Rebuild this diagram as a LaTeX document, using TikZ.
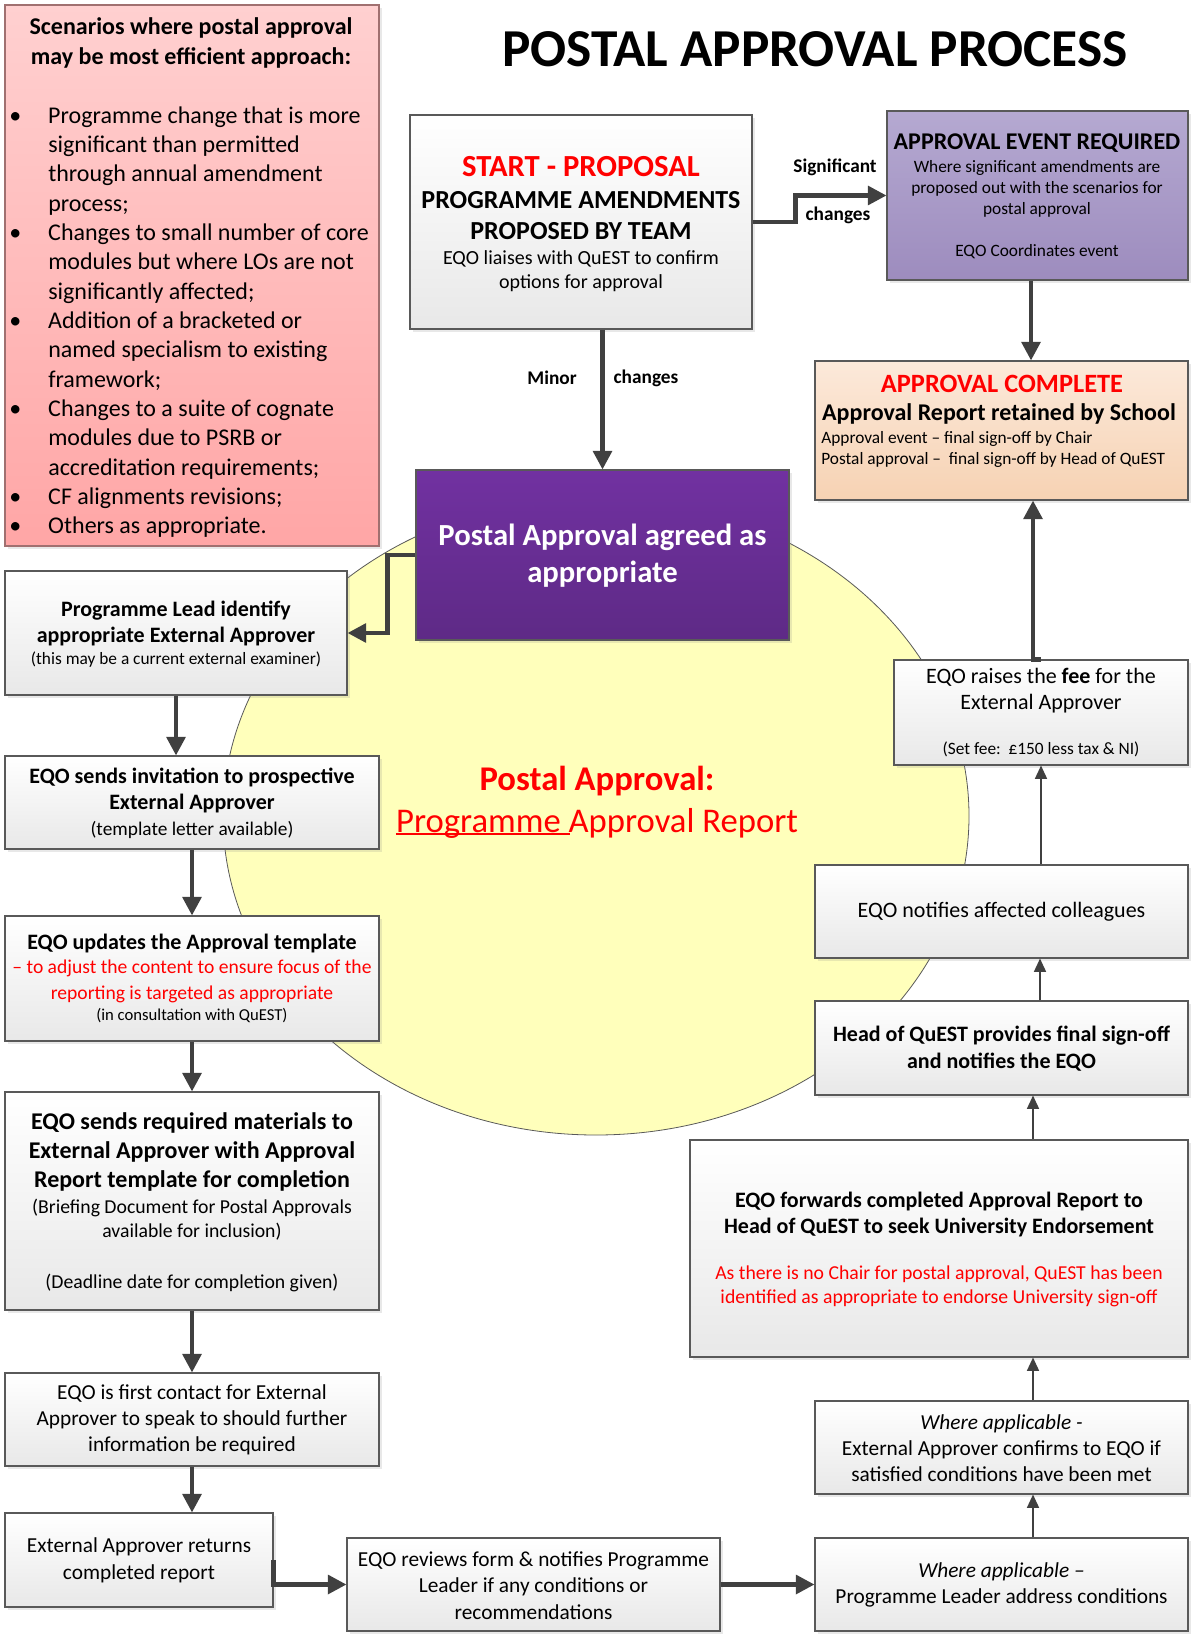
\documentclass[tikz,border=0pt]{standalone}
\usepackage{fontspec}
\setmainfont{Carlito}
\usetikzlibrary{arrows.meta,fit,shapes.geometric,shadows}
\definecolor{conn}{HTML}{404040}
\definecolor{boxline}{HTML}{595959}
\definecolor{pinktop}{HTML}{FFD0D0}
\definecolor{pinkbot}{HTML}{FFA6A6}
\definecolor{pinkline}{HTML}{A07070}
\definecolor{lavtop}{HTML}{B5A9D1}
\definecolor{lavbot}{HTML}{9D8CBE}
\definecolor{peachtop}{HTML}{FCE9DA}
\definecolor{peachbot}{HTML}{F6D2B3}
\definecolor{violtop}{HTML}{7131A1}
\definecolor{violbot}{HTML}{5E2A86}
\definecolor{lemon}{HTML}{FFFFBB}
\definecolor{alert}{HTML}{FF0000}
\newcommand\fsz[2]{\fontsize{#1}{#2}\selectfont}

\begin{document}
\begin{tikzpicture}[x=0.75pt,y=-0.75pt,
  panel/.style={draw=boxline, line width=0.8pt, inner sep=0pt,
    drop shadow={shadow xshift=2pt,shadow yshift=-2pt,opacity=0.18}},
  greybox/.style={panel, top color=white, bottom color=black!9},
  lbl/.style={inner sep=0pt, align=center},
  bigarrow/.style={draw=conn, line width=3.2pt, -{Triangle[length=14pt,width=14pt]}},
  thinarrow/.style={draw=conn, line width=1.2pt, -{Triangle[length=10pt,width=9pt]}},
]
\useasboundingbox (0,0) rectangle (1192,1640);
\fill[white] (0,0) rectangle (1192,1640);

% background oval
\node[ellipse, draw=boxline, line width=0.6pt, fill=lemon, inner sep=0pt,
      minimum width=559.5pt, minimum height=478.5pt] (oval) at (596,816) {};
\node[lbl, font=\fsz{26}{31.5}\bfseries, text=alert] (ovalA) at (597,781) {Postal Approval:};
\node[lbl, font=\fsz{26}{31.5}, text=alert] (ovalB) at (597,823) {Programme\ Approval Report};
\draw[alert, line width=1.5pt] ([yshift=-1.5pt]ovalB.base west) -- ([yshift=-1.5pt,xshift=130.5pt]ovalB.base west);

% title
\node[lbl, font=\fsz{40}{48}\bfseries] (title) at (815,49) {POSTAL APPROVAL PROCESS};

% scenarios panel
\node[panel, draw=pinkline, top color=pinktop, bottom color=pinkbot, fit={(5,5) (379,546)}] (scen) {};
\node[lbl, font=\fsz{18}{22}\bfseries] (scenhead) at (191,43) {Scenarios where postal approval\\may be most efficient approach:};
\node[anchor=north west, inner sep=0pt, font=\fsz{18}{22}] (scenlist) at (9,102.5) {%
\begin{tabular}{@{}p{29.25pt}@{}l@{}}
\textbullet & Programme change that is more\\
 & significant than permitted\\
 & through annual amendment\\
 & process;\\
\textbullet & Changes to small number of core\\
 & modules but where LOs are not\\
 & significantly affected;\\
\textbullet & Addition of a bracketed or\\
 & named specialism to existing\\
 & framework;\\
\textbullet & Changes to a suite of cognate\\
 & modules due to PSRB or\\
 & accreditation requirements;\\
\textbullet & CF alignments revisions;\\
\textbullet & Others as appropriate.
\end{tabular}};

% start
\node[greybox, fit={(410,115) (752,329)}] (start) {};
\node[lbl, font=\fsz{23}{28}\bfseries, text=alert] (startA) at (581,167) {START - PROPOSAL};
\node[lbl, font=\fsz{19.5}{23.3}\bfseries] (startB) at (581,215.5) {PROGRAMME AMENDMENTS\\PROPOSED BY TEAM};
\node[lbl, font=\fsz{15}{18}] (startC) at (581,271) {EQO liaises with QuEST to confirm\\options for approval};

% approval event
\node[panel, top color=lavtop, bottom color=lavbot, fit={(887,111) (1188,280)}] (event) {};
\node[lbl, font=\fsz{18}{22}\bfseries] (eventA) at (1037,143) {APPROVAL EVENT REQUIRED};
\node[lbl, font=\fsz{13}{15.75}] (eventB) at (1037,189) {Where significant amendments are\\proposed out with the scenarios for\\postal approval};
\node[lbl, font=\fsz{13}{15.75}] (eventC) at (1037,252) {EQO Coordinates event};

% approval complete
\node[panel, top color=peachtop, bottom color=peachbot, fit={(815,361) (1188,500)}] (done) {};
\node[lbl, font=\fsz{19.8}{24}\bfseries, text=alert] (doneA) at (1002,384) {APPROVAL COMPLETE};
\node[lbl, font=\fsz{18}{22}\bfseries] (doneB) at (999,414) {Approval Report retained by School};
\node[anchor=west, inner sep=0pt, align=left, font=\fsz{13}{15.75}] (doneC) at (821,449.5) {Approval event – final sign-off by Chair\\Postal approval –\ \ final sign-off by Head of QuEST};

% postal approval agreed
\node[panel, top color=violtop, bottom color=violbot, fit={(416,470) (789,640)}] (agreed) {};
\node[lbl, font=\fsz{23}{28}\bfseries, text=white] (agreedT) at (602.5,555.5) {Postal Approval agreed as\\appropriate};

% left column
\node[greybox, fit={(5,571) (347,695)}] (pl) {};
\node[lbl, font=\fsz{16.5}{19.5}\bfseries] (plA) at (176,623) {Programme Lead identify\\appropriate External Approver};
\node[lbl, font=\fsz{13}{16}] (plB) at (176,660) {(this may be a current external examiner)};

\node[greybox, fit={(5,756) (379,849)}] (inv) {};
\node[lbl, font=\fsz{16.5}{19.5}\bfseries] (invA) at (192,790) {EQO sends invitation to prospective\\External Approver};
\node[lbl, font=\fsz{14.5}{17}] (invB) at (192,830) {(template letter available)};

\node[greybox, fit={(5,916) (379,1041)}] (upd) {};
\node[lbl, font=\fsz{16.5}{19.5}\bfseries] (updA) at (192,944) {EQO updates the Approval template};
\node[lbl, font=\fsz{14.7}{19.5}, text=alert] (updB) at (192,981) {– to adjust the content to ensure focus of the\\reporting is targeted as appropriate};
\node[lbl, font=\fsz{12.5}{15}] (updC) at (192,1016) {(in consultation with QuEST)};

\node[greybox, fit={(5,1092) (379,1310)}] (req) {};
\node[lbl, font=\fsz{18}{22}\bfseries] (reqA) at (192,1152) {EQO sends required materials to\\External Approver with Approval\\Report template for completion};
\node[lbl, font=\fsz{14.8}{18}] (reqB) at (192,1220) {(Briefing Document for Postal Approvals\\available for inclusion)};
\node[lbl, font=\fsz{14.8}{18}] (reqC) at (192,1283) {(Deadline date for completion given)};

\node[greybox, fit={(5,1373) (379,1466)}] (first) {};
\node[lbl, font=\fsz{16}{19.5}] (firstT) at (192,1420) {EQO is first contact for External\\Approver to speak to should further\\information be required};

\node[greybox, fit={(5,1513) (273,1607)}] (ret) {};
\node[lbl, font=\fsz{16}{20}] (retT) at (139,1560.5) {External Approver returns\\completed report};

\node[greybox, fit={(347,1538) (720,1631)}] (rev) {};
\node[lbl, font=\fsz{16}{20}] (revT) at (533.5,1585.5) {EQO reviews form \& notifies Programme\\Leader if any conditions or\\recommendations};

% right column
\node[greybox, fit={(815,1538) (1188,1631)}] (plc) {};
\node[lbl, font=\fsz{16}{19.5}] (plcT) at (1001.5,1585) {\itshape Where applicable –\\Programme Leader address conditions};

\node[greybox, fit={(815,1401) (1188,1494)}] (eac) {};
\node[lbl, font=\fsz{16}{19.5}] (eacT) at (1001.5,1448) {\itshape Where applicable -\\External Approver confirms to EQO if\\satisfied conditions have been met};

\node[greybox, fit={(690,1140) (1188,1357)}] (fwd) {};
\node[lbl, font=\fsz{16.5}{20}\bfseries] (fwdA) at (939,1214.5) {EQO forwards completed Approval Report to\\Head of QuEST to seek University Endorsement};
\node[lbl, font=\fsz{14.8}{18}, text=alert] (fwdB) at (939,1286) {As there is no Chair for postal approval, QuEST has been\\identified as appropriate to endorse University sign-off};

\node[greybox, fit={(815,1001) (1188,1095)}] (head) {};
\node[lbl, font=\fsz{16.5}{20}\bfseries] (headT) at (1001.5,1048.5) {Head of QuEST provides final sign-off\\and notifies the EQO};

\node[greybox, fit={(815,865) (1188,958)}] (notif) {};
\node[lbl, font=\fsz{16.5}{20}] (notifT) at (1001.5,912) {EQO notifies affected colleagues};

\node[greybox, fit={(894,660) (1188,765)}] (fee) {};
\node[lbl, font=\fsz{16.5}{19.5}] (feeA) at (1041,691) {EQO raises the \textbf{fee} for the\\External Approver};
\node[lbl, font=\fsz{13}{16}] (feeB) at (1041,749) {(Set fee:\ \ £150 less tax \& NI)};

% connectors
\draw[bigarrow] (start.east) -- ++(43,0) |- (event.west);
\node[lbl, font=\fsz{14.5}{17}\bfseries] (sigA) at (835,167) {Significant};
\node[lbl, font=\fsz{14.5}{17}\bfseries] (sigB) at (838,215) {changes};

\draw[bigarrow] (agreed.north |- start.south) -- (agreed.north);
\node[lbl, font=\fsz{14.5}{17}\bfseries] (minA) at (552,378) {Minor};
\node[lbl, font=\fsz{14.5}{17}\bfseries] (minB) at (646,378) {changes};

\coordinate (evx) at (1031,0);
\draw[bigarrow] (evx |- event.south) -- (evx |- done.north);

\draw[bigarrow] (agreed.west) -- ++(-28,0) |- (pl.east);
\draw[bigarrow] (pl.south) -- (pl.south |- inv.north);
\draw[bigarrow] (inv.south) -- (upd.north);
\draw[bigarrow] (upd.south) -- (req.north);
\draw[bigarrow] (req.south) -- (first.north);
\draw[bigarrow] (first.south) -- (first.south |- ret.north);
\draw[bigarrow] (ret.east) |- (rev.west);
\draw[bigarrow] (rev.east) -- (plc.west);

\coordinate (rx) at (1033,0);
\coordinate (rx2) at (1040,0);
\draw[thinarrow] (rx |- plc.north) -- (rx |- eac.south);
\draw[thinarrow] (rx |- eac.north) -- (rx |- fwd.south);
\draw[thinarrow] (rx |- fwd.north) -- (rx |- head.south);
\draw[thinarrow] (rx2 |- head.north) -- (rx2 |- notif.south);
\draw[thinarrow] (fee.south |- notif.north) -- (fee.south);
\draw[bigarrow] (fee.north) -| (rx |- done.south);
\end{tikzpicture}
\end{document}
